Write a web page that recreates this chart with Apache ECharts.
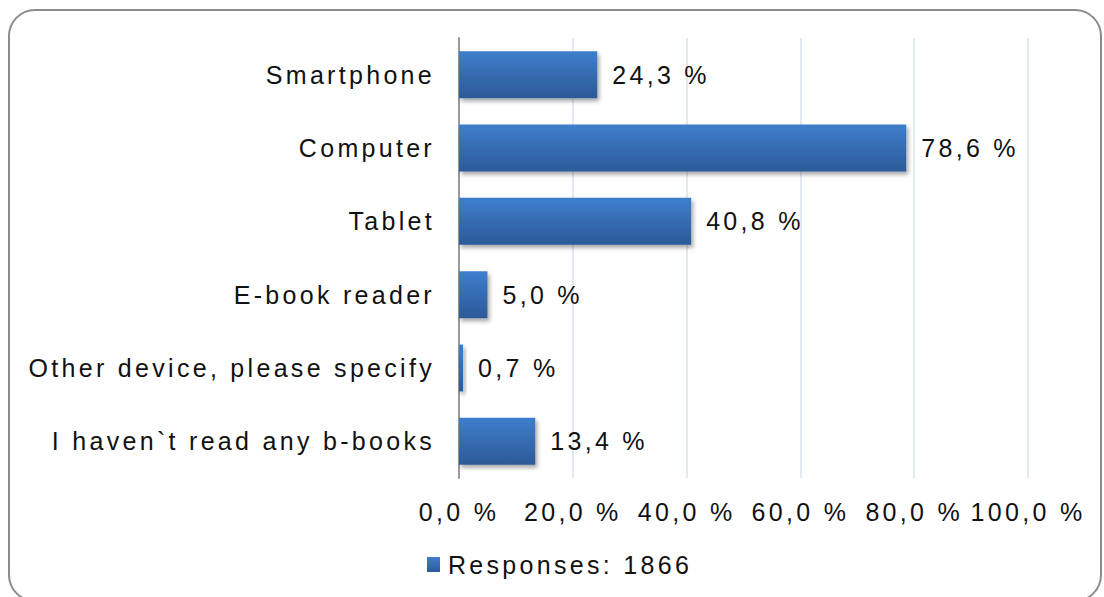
<!DOCTYPE html>
<html>
<head>
<meta charset="utf-8">
<script src="https://cdn.jsdelivr.net/npm/echarts@6/dist/echarts.min.js"></script>
<style>
  html, body { margin: 0; padding: 0; background: #fff; }
  #chart { width: 1104px; height: 597px; }
  /* the original text is spaced out quite a lot */
  #chart text { letter-spacing: 3.3px; }
</style>
</head>
<body>
<div id="chart"></div>
<script>
// data
const categories = ['Smartphone', 'Computer', 'Tablet', 'E-book reader', 'Other device, please specify', 'I haven`t read any b-books'];
const responses = [24.3, 78.6, 40.8, 5.0, 0.7, 13.4];
const seriesName = 'Responses: 1866';
const tickLabels = [0, 20, 40, 60, 80, 100];

const fmt = (v) => Number(v).toFixed(1).replace('.', ',') + ' %';
const font = 'Liberation Sans, Arial, sans-serif';

let chart = echarts.init(document.getElementById('chart'), null, { renderer: 'svg' });

chart.setOption({
  backgroundColor: '#fff',
  animation: false,
  graphic: [
    {
      type: 'rect',
      shape: { x: 9, y: 10, width: 1092, height: 591, r: 26 },
      style: { fill: 'none', stroke: '#8c8c8c', lineWidth: 2 },
      silent: true,
      z: 0
    }
  ],
  grid: { left: 459, right: 76, top: 38, bottom: 119 },
  legend: {
    data: [seriesName],
    left: 422,
    top: 547,
    icon: 'rect',
    itemWidth: 13,
    itemHeight: 15,
    textStyle: { fontSize: 25, color: '#111', fontFamily: font, padding: [0, 0, 0, 3] }
  },
  xAxis: {
    type: 'value',
    min: tickLabels[0],
    max: tickLabels[tickLabels.length - 1],
    interval: 20,
    axisLine: { show: false },
    axisTick: { show: false },
    splitLine: { show: true, lineStyle: { color: '#d9e2f0', width: 1.5 } },
    axisLabel: { formatter: fmt, fontSize: 25, color: '#111', fontFamily: font, margin: 21 }
  },
  yAxis: {
    type: 'category',
    data: categories,
    inverse: true,
    axisLine: { show: true, lineStyle: { color: '#9a9a9a', width: 2 } },
    axisTick: { show: false },
    axisLabel: { fontSize: 25, color: '#111', fontFamily: font, margin: 24 }
  },
  series: [
    {
      name: seriesName,
      type: 'bar',
      data: responses,
      barCategoryGap: '36%',
      itemStyle: {
        color: new echarts.graphic.LinearGradient(0, 0, 0, 1, [
          { offset: 0, color: '#3e7ecc' },
          { offset: 1, color: '#2c5a97' }
        ]),
        shadowColor: 'rgba(0,0,0,0.35)',
        shadowBlur: 4,
        shadowOffsetX: 2,
        shadowOffsetY: 3
      },
      label: {
        show: true,
        position: 'right',
        distance: 15,
        formatter: (p) => fmt(p.value),
        fontSize: 25,
        color: '#111',
        fontFamily: font
      }
    }
  ]
});
</script>
</body>
</html>
